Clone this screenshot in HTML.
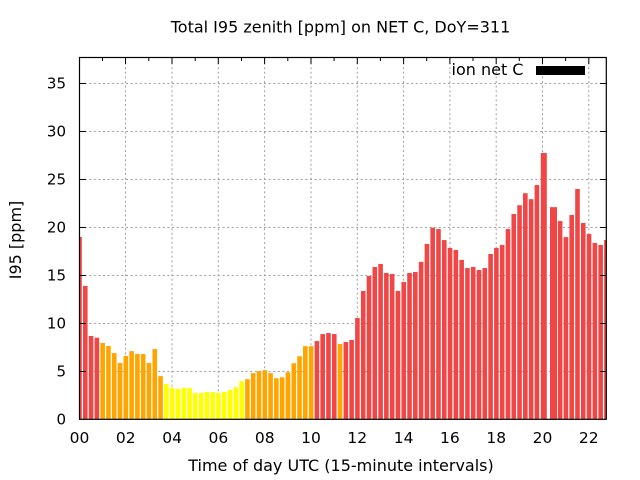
<!DOCTYPE html>
<html><head><meta charset="utf-8"><style>
html,body{margin:0;padding:0;background:#fff;}
svg{display:block;}
text{font-family:"DejaVu Sans","Liberation Sans",sans-serif;fill:#000;}
</style></head><body>
<svg width="640" height="480" viewBox="0 0 640 480" xmlns="http://www.w3.org/2000/svg">
<defs><clipPath id="pa"><rect x="79.5" y="57.5" width="526.8" height="362"/></clipPath></defs>
<rect width="640" height="480" fill="#fff"/>
<g stroke="#a0a0a0" stroke-width="1" stroke-dasharray="2,2.6" fill="none">
<line x1="80" y1="371.5" x2="606" y2="371.5"/>
<line x1="80" y1="323.5" x2="606" y2="323.5"/>
<line x1="80" y1="275.5" x2="606" y2="275.5"/>
<line x1="80" y1="227.5" x2="606" y2="227.5"/>
<line x1="80" y1="179.5" x2="606" y2="179.5"/>
<line x1="80" y1="131.5" x2="606" y2="131.5"/>
<line x1="80" y1="83.5" x2="606" y2="83.5"/>
<line x1="125.5" y1="58" x2="125.5" y2="419"/>
<line x1="172" y1="58" x2="172" y2="419"/>
<line x1="218.3" y1="58" x2="218.3" y2="419"/>
<line x1="264.6" y1="58" x2="264.6" y2="419"/>
<line x1="311" y1="58" x2="311" y2="419"/>
<line x1="357.3" y1="58" x2="357.3" y2="419"/>
<line x1="403.6" y1="58" x2="403.6" y2="419"/>
<line x1="449.9" y1="58" x2="449.9" y2="419"/>
<line x1="496.2" y1="58" x2="496.2" y2="419"/>
<line x1="542.5" y1="58" x2="542.5" y2="419"/>
<line x1="588.8" y1="58" x2="588.8" y2="419"/>
</g>
<g clip-path="url(#pa)">
<g fill="#f04646">
<rect x="77.2" y="236.9" width="4.6" height="182.4"/>
<rect x="82.99" y="285.86" width="4.6" height="133.44"/>
<rect x="88.78" y="335.97" width="4.6" height="83.33"/>
<rect x="94.57" y="337.7" width="4.6" height="81.6"/>
</g>
<g fill="#ffa500">
<rect x="100.36" y="342.98" width="4.6" height="76.32"/>
<rect x="106.15" y="346.05" width="4.6" height="73.25"/>
<rect x="111.94" y="353.06" width="4.6" height="66.24"/>
<rect x="117.73" y="363.04" width="4.6" height="56.26"/>
<rect x="123.52" y="355.94" width="4.6" height="63.36"/>
<rect x="129.31" y="351.14" width="4.6" height="68.16"/>
<rect x="135.10" y="354.02" width="4.6" height="65.28"/>
<rect x="140.89" y="354.02" width="4.6" height="65.28"/>
<rect x="146.68" y="363.04" width="4.6" height="56.26"/>
<rect x="152.47" y="349.03" width="4.6" height="70.27"/>
<rect x="158.26" y="376.1" width="4.6" height="43.2"/>
</g>
<g fill="#ffff00">
<rect x="164.05" y="383.97" width="4.6" height="35.33"/>
<rect x="169.84" y="387.62" width="4.6" height="31.68"/>
<rect x="175.63" y="389.06" width="4.6" height="30.24"/>
<rect x="181.42" y="387.91" width="4.6" height="31.39"/>
<rect x="187.21" y="387.91" width="4.6" height="31.39"/>
<rect x="193.00" y="393.0" width="4.6" height="26.3"/>
<rect x="198.79" y="393.0" width="4.6" height="26.3"/>
<rect x="204.58" y="392.04" width="4.6" height="27.26"/>
<rect x="210.37" y="392.04" width="4.6" height="27.26"/>
<rect x="216.16" y="393.0" width="4.6" height="26.3"/>
<rect x="221.95" y="392.04" width="4.6" height="27.26"/>
<rect x="227.74" y="390.02" width="4.6" height="29.28"/>
<rect x="233.53" y="387.14" width="4.6" height="32.16"/>
<rect x="239.32" y="381.19" width="4.6" height="38.11"/>
</g>
<g fill="#ffa500">
<rect x="245.11" y="379.17" width="4.6" height="40.13"/>
<rect x="250.90" y="373.12" width="4.6" height="46.18"/>
<rect x="256.69" y="371.11" width="4.6" height="48.19"/>
<rect x="262.48" y="370.15" width="4.6" height="49.15"/>
<rect x="268.27" y="373.12" width="4.6" height="46.18"/>
<rect x="274.06" y="378.21" width="4.6" height="41.09"/>
<rect x="279.85" y="377.25" width="4.6" height="42.05"/>
<rect x="285.64" y="372.26" width="4.6" height="47.04"/>
<rect x="291.43" y="363.24" width="4.6" height="56.06"/>
<rect x="297.22" y="356.23" width="4.6" height="63.07"/>
<rect x="303.01" y="346.15" width="4.6" height="73.15"/>
<rect x="308.80" y="346.15" width="4.6" height="73.15"/>
</g>
<g fill="#f04646">
<rect x="314.59" y="341.06" width="4.6" height="78.24"/>
<rect x="320.38" y="334.05" width="4.6" height="85.25"/>
<rect x="326.17" y="333.09" width="4.6" height="86.21"/>
<rect x="331.96" y="334.05" width="4.6" height="85.25"/>
</g>
<rect x="337.75" y="344.04" width="4.6" height="75.26" fill="#ffa500"/>
<g fill="#f04646">
<rect x="343.54" y="342.02" width="4.6" height="77.28"/>
<rect x="349.33" y="340.0" width="4.6" height="79.3"/>
<rect x="355.12" y="318.02" width="4.6" height="101.28"/>
<rect x="360.91" y="290.95" width="4.6" height="128.35"/>
<rect x="366.70" y="275.97" width="4.6" height="143.33"/>
<rect x="372.49" y="266.95" width="4.6" height="152.35"/>
<rect x="378.28" y="263.97" width="4.6" height="155.33"/>
<rect x="384.07" y="273.0" width="4.6" height="146.3"/>
<rect x="389.86" y="273.96" width="4.6" height="145.34"/>
<rect x="395.65" y="290.95" width="4.6" height="128.35"/>
<rect x="401.44" y="282.02" width="4.6" height="137.28"/>
<rect x="407.23" y="273.0" width="4.6" height="146.3"/>
<rect x="413.02" y="271.94" width="4.6" height="147.36"/>
<rect x="418.81" y="261.86" width="4.6" height="157.44"/>
<rect x="424.60" y="243.91" width="4.6" height="175.39"/>
<rect x="430.39" y="227.68" width="4.6" height="191.62"/>
<rect x="436.18" y="229.03" width="4.6" height="190.27"/>
<rect x="441.97" y="240.07" width="4.6" height="179.23"/>
<rect x="447.76" y="247.94" width="4.6" height="171.36"/>
<rect x="453.55" y="249.96" width="4.6" height="169.34"/>
<rect x="459.34" y="259.94" width="4.6" height="159.36"/>
<rect x="465.13" y="268.0" width="4.6" height="151.3"/>
<rect x="470.92" y="266.95" width="4.6" height="152.35"/>
<rect x="476.71" y="270.02" width="4.6" height="149.28"/>
<rect x="482.50" y="268.0" width="4.6" height="151.3"/>
<rect x="488.29" y="253.99" width="4.6" height="165.31"/>
<rect x="494.08" y="247.94" width="4.6" height="171.36"/>
<rect x="499.87" y="244.96" width="4.6" height="174.34"/>
<rect x="505.66" y="229.03" width="4.6" height="190.27"/>
<rect x="511.45" y="214.05" width="4.6" height="205.25"/>
<rect x="517.24" y="205.22" width="4.6" height="214.08"/>
<rect x="523.03" y="193.22" width="4.6" height="226.08"/>
<rect x="528.82" y="199.17" width="4.6" height="220.13"/>
<rect x="534.61" y="185.06" width="4.6" height="234.24"/>
<rect x="540.8" y="153.0" width="6" height="266.3"/>
<rect x="550" y="207.14" width="7" height="212.16"/>
<rect x="557.81" y="221.06" width="4.6" height="198.24"/>
<rect x="563.60" y="237.09" width="4.6" height="182.21"/>
<rect x="569.39" y="215.01" width="4.6" height="204.29"/>
<rect x="575.18" y="189.0" width="4.6" height="230.3"/>
<rect x="580.97" y="222.98" width="4.6" height="196.32"/>
<rect x="586.76" y="234.02" width="4.6" height="185.28"/>
<rect x="592.55" y="242.95" width="4.6" height="176.35"/>
<rect x="598.34" y="244.96" width="4.6" height="174.34"/>
<rect x="604.13" y="239.97" width="4.6" height="179.33"/>
</g>
</g>
<g stroke="#000" stroke-width="1">
<line x1="80" y1="371.5" x2="86" y2="371.5"/>
<line x1="80" y1="323.5" x2="86" y2="323.5"/>
<line x1="80" y1="275.5" x2="86" y2="275.5"/>
<line x1="80" y1="227.5" x2="86" y2="227.5"/>
<line x1="80" y1="179.5" x2="86" y2="179.5"/>
<line x1="80" y1="131.5" x2="86" y2="131.5"/>
<line x1="80" y1="83.5" x2="86" y2="83.5"/>
<line x1="600" y1="371.5" x2="606" y2="371.5"/>
<line x1="600" y1="323.5" x2="606" y2="323.5"/>
<line x1="600" y1="275.5" x2="606" y2="275.5"/>
<line x1="600" y1="227.5" x2="606" y2="227.5"/>
<line x1="600" y1="179.5" x2="606" y2="179.5"/>
<line x1="600" y1="131.5" x2="606" y2="131.5"/>
<line x1="600" y1="83.5" x2="606" y2="83.5"/>
<line x1="102.5" y1="58" x2="102.5" y2="61"/>
<line x1="125.5" y1="58" x2="125.5" y2="64"/>
<line x1="148.8" y1="58" x2="148.8" y2="61"/>
<line x1="172" y1="58" x2="172" y2="64"/>
<line x1="195.2" y1="58" x2="195.2" y2="61"/>
<line x1="218.3" y1="58" x2="218.3" y2="64"/>
<line x1="241.5" y1="58" x2="241.5" y2="61"/>
<line x1="264.6" y1="58" x2="264.6" y2="64"/>
<line x1="287.8" y1="58" x2="287.8" y2="61"/>
<line x1="311" y1="58" x2="311" y2="64"/>
<line x1="334.1" y1="58" x2="334.1" y2="61"/>
<line x1="357.3" y1="58" x2="357.3" y2="64"/>
<line x1="380.4" y1="58" x2="380.4" y2="61"/>
<line x1="403.6" y1="58" x2="403.6" y2="64"/>
<line x1="426.7" y1="58" x2="426.7" y2="61"/>
<line x1="449.9" y1="58" x2="449.9" y2="64"/>
<line x1="473" y1="58" x2="473" y2="61"/>
<line x1="496.2" y1="58" x2="496.2" y2="64"/>
<line x1="519.3" y1="58" x2="519.3" y2="61"/>
<line x1="542.5" y1="58" x2="542.5" y2="64"/>
<line x1="565.6" y1="58" x2="565.6" y2="61"/>
<line x1="588.8" y1="58" x2="588.8" y2="64"/>
</g>
<rect x="79.5" y="57.5" width="526.8" height="361.8" fill="none" stroke="#000" stroke-width="1.2"/>
<text x="340.5" y="32.7" font-size="16" text-anchor="middle">Total I95 zenith [ppm] on NET C, DoY=311</text>
<g font-size="15" text-anchor="end">
<text x="66" y="424.5">0</text>
<text x="66" y="376.5">5</text>
<text x="66" y="328.5">10</text>
<text x="66" y="280.5">15</text>
<text x="66" y="232.5">20</text>
<text x="66" y="184.5">25</text>
<text x="66" y="136.5">30</text>
<text x="66" y="88.5">35</text>
</g>
<g font-size="15.5" text-anchor="middle">
<text x="79.5" y="443">00</text>
<text x="125.8" y="443">02</text>
<text x="172.1" y="443">04</text>
<text x="218.4" y="443">06</text>
<text x="264.7" y="443">08</text>
<text x="311" y="443">10</text>
<text x="357.3" y="443">12</text>
<text x="403.6" y="443">14</text>
<text x="449.9" y="443">16</text>
<text x="496.2" y="443">18</text>
<text x="542.5" y="443">20</text>
<text x="588.8" y="443">22</text>
</g>
<text x="341" y="471" font-size="16" text-anchor="middle">Time of day UTC (15-minute intervals)</text>
<text transform="translate(21,240) rotate(-90)" font-size="16" text-anchor="middle">I95 [ppm]</text>
<text x="451.5" y="75" font-size="16">ion net C</text>
<rect x="536" y="66" width="49" height="9" fill="#000"/>
</svg>
</body></html>
